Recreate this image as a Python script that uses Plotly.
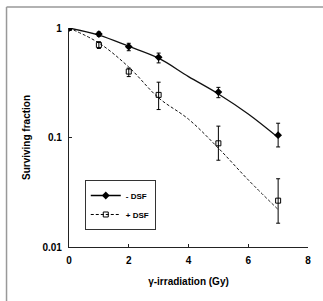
import plotly.graph_objects as go

# data points
dose = [0, 1, 2, 3, 5, 7]
minus_dsf = [1.0, 0.88, 0.675, 0.54, 0.26, 0.105]
minus_hi = [1.0, 0.92, 0.725, 0.59, 0.287, 0.135]
minus_lo = [1.0, 0.84, 0.62, 0.48, 0.231, 0.082]
plus_dsf = [1.0, 0.70, 0.40, 0.245, 0.0885, 0.0265]
plus_hi = [1.0, 0.75, 0.43, 0.32, 0.127, 0.042]
plus_lo = [1.0, 0.65, 0.36, 0.18, 0.062, 0.0165]

# fitted curves
fit_dose = [0, 1, 2, 3, 4, 5, 6, 7]
fit_minus = [1.0, 0.86, 0.68, 0.53, 0.36, 0.25, 0.164, 0.10]
fit_plus = [1.0, 0.73, 0.44, 0.23, 0.147, 0.08, 0.041, 0.022]

x_ticks = [0, 2, 4, 6, 8]
y_ticks = [0.01, 0.1, 1]
y_tick_text = ["0.01", "0.1", "1"]

FONT = "Liberation Sans"

def err(vals, hi, lo):
    return dict(type="data", symmetric=False,
                array=[h - v for h, v in zip(hi, vals)],
                arrayminus=[v - l for v, l in zip(vals, lo)],
                color="black", thickness=1, width=2)

fig = go.Figure()
fig.add_trace(go.Scatter(x=fit_dose, y=fit_minus, mode="lines", line=dict(color="#111", width=1.3, shape="spline"), showlegend=False))
fig.add_trace(go.Scatter(x=fit_dose, y=fit_plus, mode="lines", line=dict(color="#111", width=1, dash="3px,2px", shape="spline"), showlegend=False))
fig.add_trace(go.Scatter(x=dose, y=minus_dsf, mode="markers", marker=dict(symbol="diamond", size=6, color="black"), error_y=err(minus_dsf, minus_hi, minus_lo), showlegend=False))
fig.add_trace(go.Scatter(x=dose, y=plus_dsf, mode="markers", marker=dict(symbol="square-open", size=5, color="black", line=dict(width=1)), error_y=err(plus_dsf, plus_hi, plus_lo), showlegend=False))
# legend entries
fig.add_trace(go.Scatter(x=[None], y=[None], mode="lines+markers", name="- DSF", line=dict(color="black", width=1.3), marker=dict(symbol="diamond", size=6, color="black")))
fig.add_trace(go.Scatter(x=[None], y=[None], mode="lines+markers", name="+ DSF", line=dict(color="black", width=1, dash="3px,2px"), marker=dict(symbol="square-open", size=5, color="black")))

fig.update_layout(
    width=323, height=301,
    margin=dict(l=69, r=13, t=28, b=54),
    paper_bgcolor="white", plot_bgcolor="white",
    font=dict(family=FONT, size=10, color="black"),
    showlegend=True,
    legend=dict(x=0.066, y=0.306, xanchor="left", yanchor="top",
                bordercolor="#333", borderwidth=1, bgcolor="white",
                font=dict(size=8, family=FONT, weight="bold"), itemwidth=30,
                tracegroupgap=0),
    xaxis=dict(range=[0, 8], tickvals=x_ticks, showline=True, linecolor="#222", linewidth=1.2,
               ticks="inside", ticklen=3, tickcolor="#222", showgrid=False, zeroline=False,
               ticklabelstandoff=4,
               tickfont=dict(size=10, family=FONT, weight="bold"),
               title=dict(text="γ-irradiation (Gy)", font=dict(size=10, family=FONT, weight="bold"), standoff=12)),
    yaxis=dict(type="log", range=[-2, 0], tickvals=y_ticks, ticktext=y_tick_text, showline=True,
               linecolor="#222", linewidth=1.2, ticks="inside", ticklen=3, tickcolor="#222",
               showgrid=False, zeroline=False, ticklabelstandoff=4,
               tickfont=dict(size=10, family=FONT, weight="bold"),
               title=dict(text="Surviving fraction", font=dict(size=10, family=FONT, weight="bold"), standoff=9)),
    shapes=[
        dict(type="line", xref="paper", yref="paper", x0=-0.2614, x1=1.1, y0=1.0959, y1=1.0959, line=dict(color="#999", width=1.5)),
        dict(type="line", xref="paper", yref="paper", x0=-0.2614, x1=-0.2614, y0=-0.3, y1=1.0959, line=dict(color="#999", width=1.5)),
    ],
)

fig.write_html("out.html", config={"displayModeBar": False},
               post_script="document.body.style.margin='0px';document.body.style.overflow='hidden';")
